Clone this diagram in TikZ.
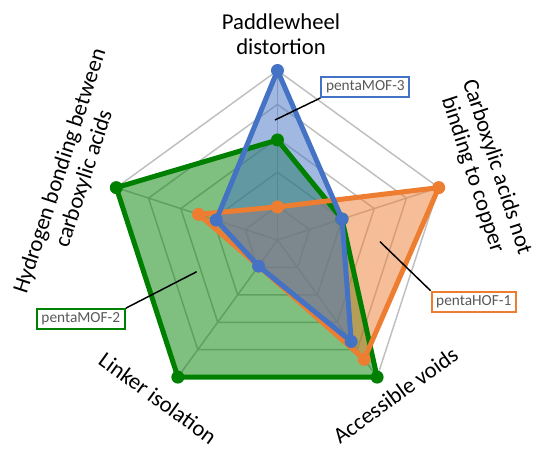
\documentclass[tikz,border=0pt]{standalone}
\usepackage{fontspec}
\setmainfont{Carlito}
\definecolor{mgreen}{HTML}{008000}
\definecolor{morange}{HTML}{ED7D31}
\definecolor{mblue}{HTML}{4472C4}
\definecolor{gridgray}{HTML}{BFBFBF}
\definecolor{textgray}{HTML}{595959}
\begin{document}
\begin{tikzpicture}[x=0.75pt,y=0.75pt,
  gridline/.style={draw=gridgray, line width=1.1pt},
  series/.style={line width=3.75pt, line join=round},
  dotmark/.style={fill=#1, draw=none},
  area/.style={fill=#1, fill opacity=0.5, draw=none},
  axislabel/.style={font=\fontsize{17}{19}\selectfont, align=center, text=black, inner sep=0pt},
  callout/.style={draw=#1, line width=1.5pt, fill=white, text=textgray,
    font=\fontsize{11.5}{13}\selectfont, inner xsep=3.5pt, inner ysep=2pt, minimum height=15pt},
  leader/.style={draw=black, line width=1.1pt}
]
\def\R{169.5}
\useasboundingbox (-277.5,-209) rectangle (259.5,240);
% grid
\coordinate (c) at (0,0);
\foreach \k in {1,...,5}{
  \draw[gridline] (90:{\k*\R/5}) -- (18:{\k*\R/5}) -- (-54:{\k*\R/5}) -- (-126:{\k*\R/5}) -- (162:{\k*\R/5}) -- cycle;
}
\foreach \a in {90,18,-54,-126,162}{
  \draw[gridline] (c) -- (\a:\R);
}
% data points
\coordinate (g1) at (90:{0.59*\R});
\coordinate (g2) at (18:{0.4*\R});
\coordinate (g3) at (-54:{1.0*\R});
\coordinate (g4) at (-126:{1.0*\R});
\coordinate (g5) at (162:{1.0*\R});
\coordinate (o1) at (90:{0.195*\R});
\coordinate (o2) at (18:{1.0*\R});
\coordinate (o3) at (-54:{0.87*\R});
\coordinate (o4) at (-126:{0.19*\R});
\coordinate (o5) at (162:{0.49*\R});
\coordinate (b1) at (90:{1.0*\R});
\coordinate (b2) at (18:{0.4*\R});
\coordinate (b3) at (-54:{0.74*\R});
\coordinate (b4) at (-126:{0.19*\R});
\coordinate (b5) at (162:{0.38*\R});
% fills
\path[area=mgreen] (g1) -- (g2) -- (g3) -- (g4) -- (g5) -- cycle;
\path[area=morange] (o1) -- (o2) -- (o3) -- (o4) -- (o5) -- cycle;
\path[area=mblue] (b1) -- (b2) -- (b3) -- (b4) -- (b5) -- cycle;
% lines and markers
\draw[series, draw=mgreen] (g1) -- (g2) -- (g3) -- (g4) -- (g5) -- cycle;
\foreach \p in {g1,g2,g3,g4,g5}{ \fill[dotmark=mgreen] (\p) circle (6.5); }
\draw[series, draw=morange] (o1) -- (o2) -- (o3) -- (o4) -- (o5) -- cycle;
\foreach \p in {o1,o2,o3,o4,o5}{ \fill[dotmark=morange] (\p) circle (6.5); }
\draw[series, draw=mblue] (b1) -- (b2) -- (b3) -- (b4) -- (b5) -- cycle;
\foreach \p in {b1,b2,b3,b4,b5}{ \fill[dotmark=mblue] (\p) circle (6.5); }
% axis labels
\node[axislabel] (l1) at (3.5,206) {Paddlewheel\\distortion};
\node[axislabel, rotate=-72] (l2) at (207,69) {Carboxylic acids not\\binding to copper};
\node[axislabel, rotate=36] (l3) at (118,-155) {Accessible voids};
\node[axislabel, rotate=-36] (l4) at (-119.5,-158) {Linker isolation};
\node[axislabel, rotate=72] (l5) at (-205,65) {Hydrogen bonding between\\carboxylic acids};
% callouts
\coordinate (pb) at (-2.5,120);
\coordinate (po) at (102.5,-1.7);
\coordinate (pg) at (-80.8,-31.7);
\node[callout=mblue] (cb) at (87.9,153) {pentaMOF-3};
\node[callout=morange] (co) at (196.3,-61.7) {pentaHOF-1};
\node[callout=mgreen] (cg) at (-196.7,-79.2) {pentaMOF-2};
\draw[leader] (pb) -- (cb.south west);
\draw[leader] (po) -- (co.north west);
\draw[leader] (pg) -- (cg.north east);
\end{tikzpicture}
\end{document}
